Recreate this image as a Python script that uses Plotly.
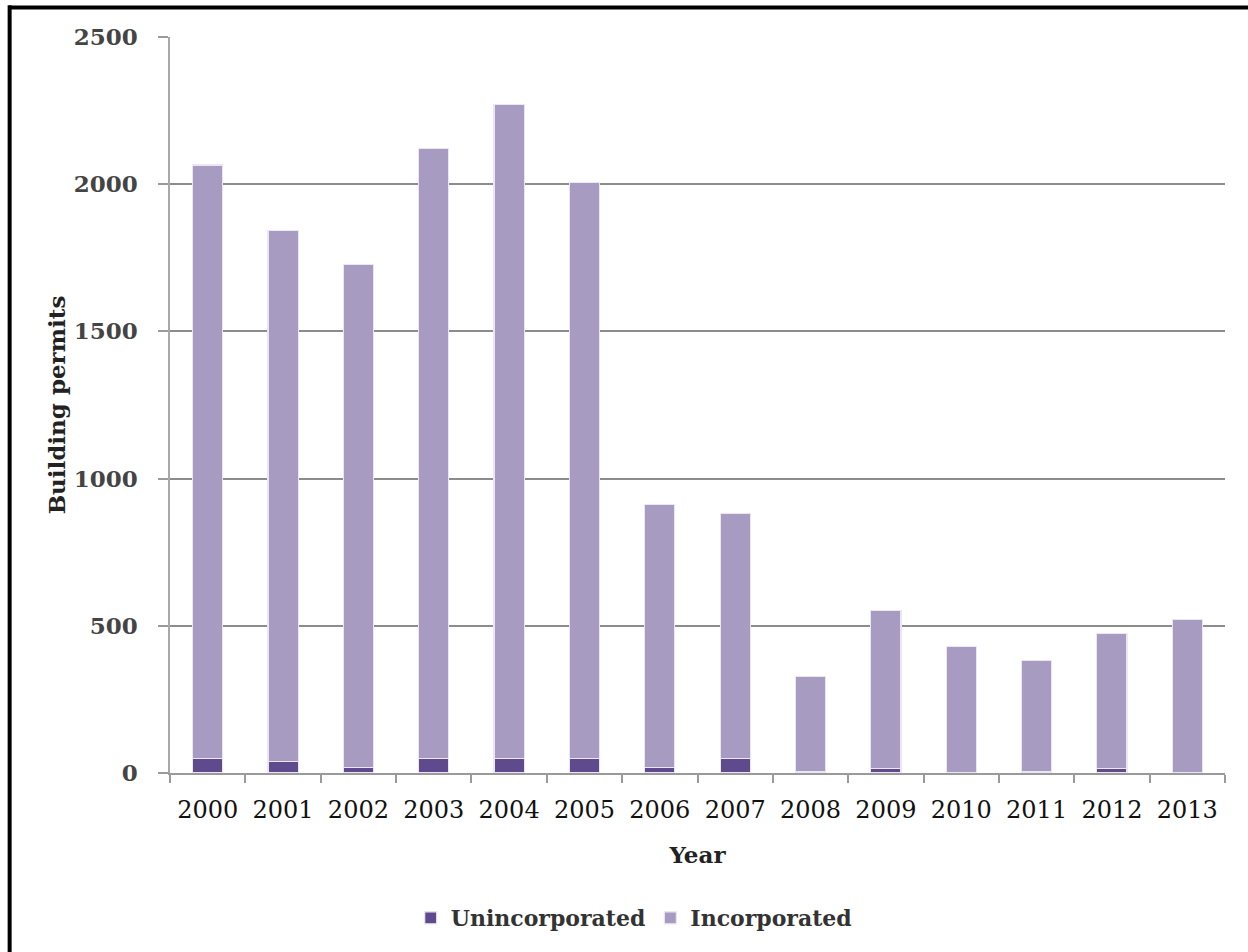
import plotly.graph_objects as go

# Residential building permits by year, split by jurisdiction type
years = ["2000", "2001", "2002", "2003", "2004", "2005", "2006",
         "2007", "2008", "2009", "2010", "2011", "2012", "2013"]
unincorporated = [50, 40, 18, 50, 50, 48, 18, 48, 4, 14, 3, 5, 14, 0]
incorporated = [2015, 1802, 1710, 2070, 2221, 1959, 894, 834, 323, 537, 428, 376, 461, 522]

y_ticks = [0, 500, 1000, 1500, 2000, 2500]

SERIF = "DejaVu Serif"
DARK = "#5e4a8c"
LIGHT = "#a89bc2"

fig = go.Figure()
fig.add_trace(go.Bar(
    x=years, y=unincorporated, name="Unincorporated",
    marker=dict(color=DARK, line=dict(color="#ece6f4", width=1.2)),
))
fig.add_trace(go.Bar(
    x=years, y=incorporated, name="Incorporated",
    marker=dict(color=LIGHT, line=dict(color="#ece6f4", width=1.2)),
))

fig.update_layout(
    width=1248, height=952,
    margin=dict(l=170, r=23, t=37, b=179),
    barmode="stack",
    bargap=0.6,
    paper_bgcolor="white",
    plot_bgcolor="white",
    font=dict(family=SERIF, color="#222222"),
    legend=dict(
        orientation="h",
        x=0.44, xanchor="center",
        y=-0.197, yanchor="middle",
        font=dict(family=SERIF, size=22, color="#333333", weight="bold"),
        itemwidth=30,
        traceorder="normal",
    ),
    xaxis=dict(
        type="category",
        showgrid=False,
        showline=True, linecolor="#9a9a9a", linewidth=1.5,
        ticks="outside", tickson="boundaries", ticklen=8,
        tickcolor="#9a9a9a", tickwidth=1.5,
        tickfont=dict(family=SERIF, size=24, color="#111111"),
        ticklabelstandoff=14,
        title=dict(text="Year", standoff=24,
                   font=dict(family=SERIF, size=23, color="#222222", weight="bold")),
    ),
    yaxis=dict(
        range=[0, 2500],
        tickvals=y_ticks,
        showgrid=True, gridcolor="#8c8c8c", gridwidth=1.5,
        showline=True, linecolor="#a8a8a8", linewidth=1.5,
        ticks="outside", ticklen=10, tickcolor="#9a9a9a", tickwidth=1.5,
        tickfont=dict(family=SERIF, size=23, color="#444444", weight="bold"),
        ticklabelstandoff=16,
        zeroline=False,
        title=dict(text="Building permits", standoff=2,
                   font=dict(family=SERIF, size=23, color="#222222", weight="bold")),
    ),
)

# Black frame along the left and top edges of the page
fig.add_shape(type="line", xref="paper", yref="paper",
              x0=-0.152, x1=1.03, y0=1.040, y1=1.040,
              line=dict(color="black", width=4))
fig.add_shape(type="line", xref="paper", yref="paper",
              x0=-0.152, x1=-0.152, y0=1.043, y1=-0.25,
              line=dict(color="black", width=4))

fig.write_html("out.html")
